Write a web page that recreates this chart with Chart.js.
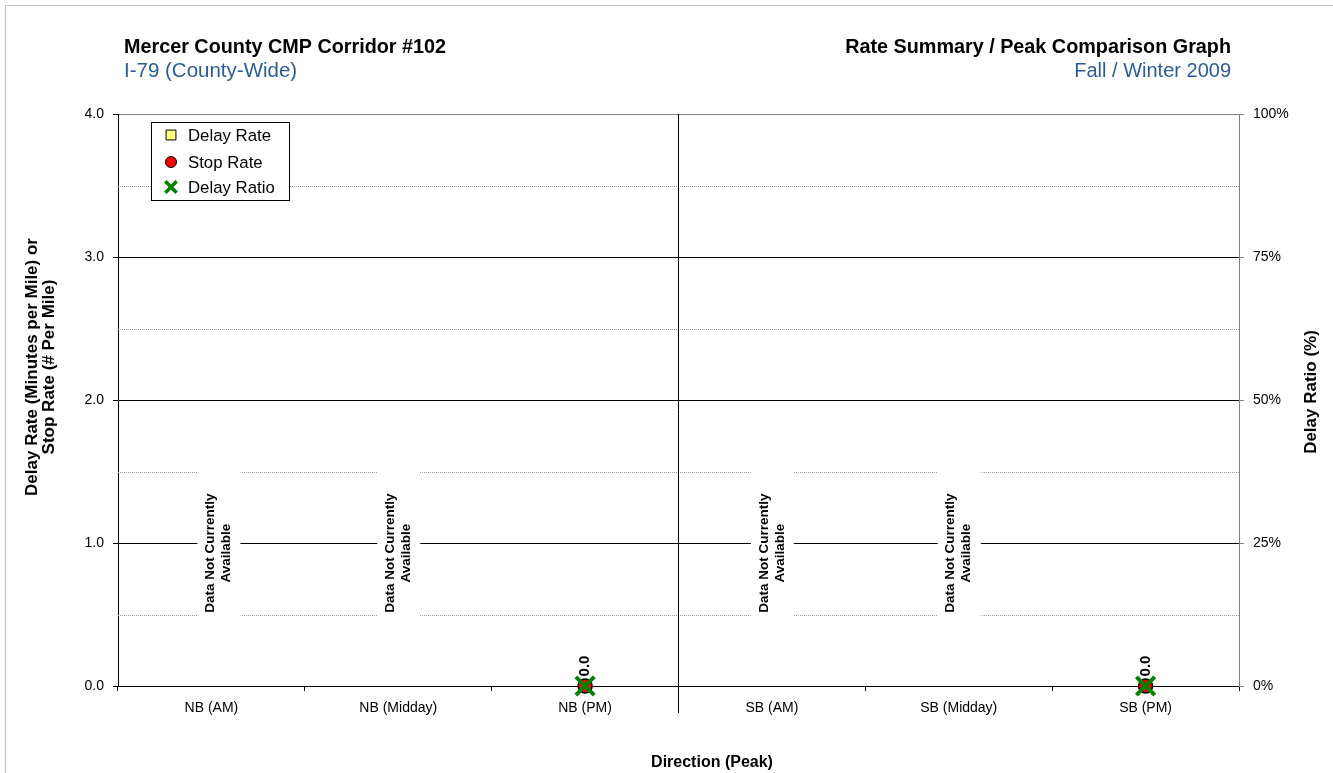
<!DOCTYPE html>
<html lang="en">
<head>
<meta charset="UTF-8">
<title>Rate Summary / Peak Comparison Graph</title>
<script src="https://cdn.jsdelivr.net/npm/chart.js@4.4.1/dist/chart.umd.min.js"></script>
<style>
  body { margin: 0; background: #fff; }
  .frame { position: absolute; left: 5px; top: 5px; width: 1340px; height: 780px; border: 1px solid #bdbdbd; }
  .wrap { position: absolute; left: 0; top: 0; width: 1333px; height: 773px; }
</style>
</head>
<body>
<div class="frame"></div>
<div class="wrap"><canvas id="rateChart" width="1333" height="773"></canvas></div>
<script>
// chart data
const categories = ['NB (AM)', 'NB (Midday)', 'NB (PM)', 'SB (AM)', 'SB (Midday)', 'SB (PM)'];
const delayRate = [null, null, 0, null, null, 0];   // minutes per mile
const stopRate = [null, null, 0, null, null, 0];    // stops per mile
const delayRatio = [null, null, 0, null, null, 0];  // percent
const leftTicks = ['0.0', '1.0', '2.0', '3.0', '4.0'];
const rightTicks = ['0%', '25%', '50%', '75%', '100%'];

const FONT = 'Arial, "Liberation Sans", sans-serif';
const BLUE = '#2b5c97';

const decorations = {
    id: 'decorations',
    beforeDatasetsDraw(chart) {
        const { ctx, chartArea: a, scales: { x, y } } = chart;
        ctx.save();
        // dotted minor gridlines
        ctx.strokeStyle = '#9a9a9a';
        ctx.lineWidth = 1;
        ctx.setLineDash([1, 1]);
        for (let v = 0.5; v < 4; v += 1) {
            const py = Math.round(y.getPixelForValue(v)) + 0.5;
            ctx.beginPath(); ctx.moveTo(a.left, py); ctx.lineTo(a.right, py); ctx.stroke();
        }
        ctx.setLineDash([]);
        // NB / SB divider
        const dx = Math.round((x.getPixelForValue(2) + x.getPixelForValue(3)) / 2) - 0.5;
        ctx.strokeStyle = '#000';
        ctx.beginPath(); ctx.moveTo(dx, a.top); ctx.lineTo(dx, a.bottom + 27); ctx.stroke();
        // "not available" notes
        ctx.font = 'bold 13.5px ' + FONT;
        ctx.textAlign = 'center';
        ctx.textBaseline = 'middle';
        categories.forEach((c, i) => {
            if (delayRate[i] !== null) return;
            const cx = x.getPixelForValue(i) + (i === 0 ? 7 : 0);
            const cy = y.getPixelForValue(0.93);
            ctx.fillStyle = '#fff';
            ctx.fillRect(cx - 21, cy - 86, 43, 172);
            ctx.save();
            ctx.translate(cx, cy);
            ctx.rotate(-Math.PI / 2);
            ctx.fillStyle = '#000';
            ctx.fillText('Data Not Currently', 0, -8);
            ctx.fillText('Available', 0, 8);
            ctx.restore();
        });
        ctx.restore();
    },
    afterDatasetsDraw(chart) {
        const { ctx } = chart;
        const meta = chart.getDatasetMeta(0);
        ctx.save();
        ctx.font = 'bold 15px ' + FONT;
        ctx.textAlign = 'center';
        ctx.textBaseline = 'middle';
        ctx.fillStyle = '#000';
        meta.data.forEach((pt, i) => {
            if (delayRate[i] === null) return;
            ctx.save();
            ctx.translate(pt.x, pt.y - 20);
            ctx.rotate(-Math.PI / 2);
            ctx.fillText(delayRate[i].toFixed(1), 0, 0);
            ctx.restore();
        });
        ctx.restore();
    },
    afterDraw(chart) {
        const { ctx, chartArea: a } = chart;
        ctx.save();
        // headings
        ctx.textBaseline = 'alphabetic';
        ctx.textAlign = 'left';
        ctx.fillStyle = '#000';
        ctx.font = 'bold 19.8px ' + FONT;
        ctx.fillText('Mercer County CMP Corridor #102', 124, 53);
        ctx.fillStyle = BLUE;
        ctx.font = '20.5px ' + FONT;
        ctx.fillText('I-79 (County-Wide)', 124, 77);
        ctx.textAlign = 'right';
        ctx.fillStyle = '#000';
        ctx.font = 'bold 19.8px ' + FONT;
        ctx.fillText('Rate Summary / Peak Comparison Graph', 1231, 53);
        ctx.fillStyle = BLUE;
        ctx.font = '20px ' + FONT;
        ctx.fillText('Fall / Winter 2009', 1231, 77);

        // axis titles
        ctx.fillStyle = '#000';
        ctx.font = 'bold 16px ' + FONT;
        ctx.textAlign = 'center';
        ctx.textBaseline = 'middle';
        ctx.fillText('Direction (Peak)', 712, 763);
        ctx.font = 'bold 17px ' + FONT;
        ctx.save();
        ctx.translate(32, 367);
        ctx.rotate(-Math.PI / 2);
        ctx.fillText('Delay Rate (Minutes per Mile) or', 0, 0);
        ctx.fillText('Stop Rate (# Per Mile)', 0, 17);
        ctx.restore();
        ctx.save();
        ctx.translate(1311, 392);
        ctx.rotate(-Math.PI / 2);
        ctx.fillText('Delay Ratio (%)', 0, 0);
        ctx.restore();

        // legend box
        const lx = a.left + 33, ly = a.top + 8;
        ctx.fillStyle = '#fff';
        ctx.fillRect(lx, ly, 138, 78);
        ctx.strokeStyle = '#000';
        ctx.lineWidth = 1;
        ctx.strokeRect(lx + 0.5, ly + 0.5, 138, 78);
        ctx.font = '16.8px ' + FONT;
        ctx.textAlign = 'left';
        const rows = [13, 40, 65];
        chart.data.datasets.forEach((ds, i) => {
            const my = ly + rows[i];
            ctx.fillStyle = ds.pointBackgroundColor;
            ctx.strokeStyle = ds.pointBorderColor;
            ctx.lineWidth = ds.legendBorderWidth;
            Chart.helpers.drawPoint(ctx, { pointStyle: ds.pointStyle, radius: ds.legendRadius, borderWidth: ds.legendBorderWidth, rotation: 0 }, lx + 20, my);
            ctx.fillStyle = '#000';
            ctx.fillText(ds.label, lx + 37, my + 1);
        });
        ctx.restore();
    }
};

new Chart(document.getElementById('rateChart'), {
    type: 'line',
    data: {
        labels: categories,
        datasets: [
            {
                label: 'Delay Rate',
                data: delayRate,
                yAxisID: 'y',
                showLine: false,
                clip: false,
                pointStyle: 'rect',
                pointRadius: 7,
                pointBackgroundColor: '#ffff80',
                pointBorderColor: '#000',
                pointBorderWidth: 1,
                legendRadius: 7,
                legendBorderWidth: 1,
                order: 2
            },
            {
                label: 'Stop Rate',
                data: stopRate,
                yAxisID: 'y',
                showLine: false,
                clip: false,
                pointStyle: 'circle',
                pointRadius: 7,
                pointBackgroundColor: '#ff0000',
                pointBorderColor: '#000',
                pointBorderWidth: 1.5,
                legendRadius: 5.5,
                legendBorderWidth: 1,
                order: 1
            },
            {
                label: 'Delay Ratio',
                data: delayRatio,
                yAxisID: 'y2',
                showLine: false,
                clip: false,
                pointStyle: 'crossRot',
                pointRadius: 13,
                pointBackgroundColor: '#008000',
                pointBorderColor: '#008000',
                pointBorderWidth: 4,
                legendRadius: 8,
                legendBorderWidth: 3.5,
                order: 0
            }
        ]
    },
    options: {
        responsive: false,
        animation: false,
        layout: { padding: { top: 114, left: 0, right: 0, bottom: 0 } },
        plugins: {
            legend: { display: false },
            tooltip: { enabled: false }
        },
        scales: {
            x: {
                offset: true,
                afterFit: s => { s.height = 87; },
                grid: { offset: true, drawOnChartArea: false, drawTicks: true, tickLength: 5, color: '#000', tickColor: '#000' },
                border: { display: true, color: '#000' },
                ticks: { padding: 9, color: '#000', font: { family: FONT, size: 14 } }
            },
            y: {
                position: 'left',
                min: 0,
                max: 4,
                afterFit: s => { s.width = 118; },
                ticks: {
                    stepSize: 0.5,
                    padding: 9,
                    color: '#000',
                    font: { family: FONT, size: 14 },
                    callback: v => Number.isInteger(v) ? leftTicks[v] : ''
                },
                grid: {
                    tickLength: 5,
                    color: c => Number.isInteger(c.tick.value) ? (c.tick.value === 4 ? '#808080' : '#000') : 'rgba(0,0,0,0)',
                    tickColor: c => Number.isInteger(c.tick.value) ? '#000' : 'rgba(0,0,0,0)'
                },
                border: { color: '#000' }
            },
            y2: {
                position: 'right',
                min: 0,
                max: 100,
                afterFit: s => { s.width = 94; },
                ticks: {
                    stepSize: 25,
                    padding: 9,
                    color: '#000',
                    font: { family: FONT, size: 14 },
                    callback: v => rightTicks[v / 25]
                },
                grid: { drawOnChartArea: false, tickLength: 5, tickColor: '#808080' },
                border: { color: '#808080' }
            }
        }
    },
    plugins: [decorations]
});
</script>
</body>
</html>
